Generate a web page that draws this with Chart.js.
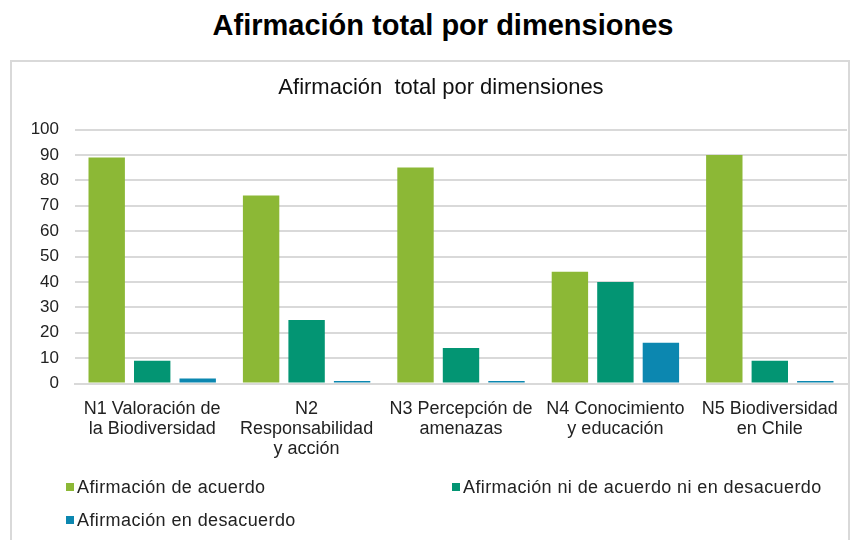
<!DOCTYPE html>
<html>
<head>
<meta charset="utf-8">
<script src="https://cdn.jsdelivr.net/npm/chart.js@4"></script>
<style>
  html, body { margin: 0; padding: 0; background: #fff; }
  body { width: 859px; height: 540px; position: relative; overflow: hidden; font-family: "Liberation Sans", Arial, sans-serif; }
  #mainTitle { position: absolute; left: 0; top: 9px; width: 886px; text-align: center; font-size: 29px; font-weight: bold; color: #000; }
  #box { position: absolute; left: 10px; top: 60px; width: 840px; height: 520px; border: 2px solid #d9d9d9; box-sizing: border-box; }
  #subTitle { position: absolute; left: 0; top: 74px; width: 882px; text-align: center; font-size: 22px; color: #111; line-height: 26px; white-space: pre; }
  #wrap { position: absolute; left: 11px; top: 61px; width: 838px; height: 479px; }
  #legend { position: absolute; left: 0; top: 0; width: 859px; height: 540px; pointer-events: none; }
  .item { position: absolute; font-size: 18px; letter-spacing: 0.4px; color: #222; white-space: nowrap; line-height: 21px; }
  .item i { display: inline-block; width: 8px; height: 8px; margin-right: 3px; vertical-align: 2px; }
</style>
</head>
<body>
<div id="mainTitle">Afirmación total por dimensiones</div>
<div id="box"></div>
<div id="wrap"><canvas id="chart"></canvas></div>
<div id="subTitle">Afirmación  total por dimensiones</div>
<div id="legend"></div>
<script>
const qs = (sel) => document.querySelector(sel);

// datos
const categories = [
  ["N1 Valoración de", "la Biodiversidad"],
  ["N2", "Responsabilidad", "y acción"],
  ["N3 Percepción de", "amenazas"],
  ["N4 Conocimiento", "y educación"],
  ["N5 Biodiversidad", "en Chile"]
];
const seriesNames = [
  "Afirmación de acuerdo",
  "Afirmación ni de acuerdo ni en desacuerdo",
  "Afirmación en desacuerdo"
];
const deAcuerdo = [89, 74, 85, 44, 90];
const niAcuerdoNiDesacuerdo = [9, 25, 14, 40, 9];
const enDesacuerdo = [2, 1, 1, 16, 1];
const yMin = 0, yMax = 100, yStep = 10;

const colors = ["#8cb836", "#039573", "#0c87b0"];
const values = [deAcuerdo, niAcuerdoNiDesacuerdo, enDesacuerdo];

const FONT = "'Liberation Sans', Arial, sans-serif";

function buildLegend() {
  const el = qs("#legend");
  const pos = [[66, 477], [452, 477], [66, 510]];
  el.innerHTML = seriesNames.map((name, i) =>
    `<div class="item" style="left:${pos[i][0]}px;top:${pos[i][1]}px"><i style="background:${colors[i]}"></i>${name}</div>`
  ).join("");
}

function init() {
  const ctx = qs("#chart").getContext("2d");
  new Chart(ctx, {
    type: "bar",
    data: {
      labels: categories,
      datasets: seriesNames.map((name, i) => ({
        label: name,
        data: values[i],
        backgroundColor: colors[i],
        borderWidth: 0,
        barPercentage: 0.8,
        categoryPercentage: 0.884
      }))
    },
    options: {
      responsive: true,
      maintainAspectRatio: false,
      animation: false,
      layout: { padding: { left: 0, right: 2, top: 68.5, bottom: 0 } },
      scales: {
        x: {
          afterFit: (s) => { s.height = 156.5; },
          grid: { display: false },
          border: { display: true, color: "#d9d9d9", width: 2 },
          ticks: { color: "#222", font: { family: FONT, size: 18, lineHeight: 1.1 }, maxRotation: 0, autoSkip: false, padding: 8 }
        },
        y: {
          min: yMin,
          max: yMax,
          afterFit: (s) => { s.width = 64; },
          grid: { color: "#d9d9d9", lineWidth: 2, drawTicks: false },
          border: { display: false },
          ticks: { stepSize: yStep, color: "#222", font: { family: FONT, size: 17 }, padding: 16 }
        }
      },
      plugins: {
        legend: { display: false },
        tooltip: { enabled: false },
        title: { display: false }
      }
    }
  });
  buildLegend();
}

document.addEventListener("DOMContentLoaded", init);
</script>
</body>
</html>
